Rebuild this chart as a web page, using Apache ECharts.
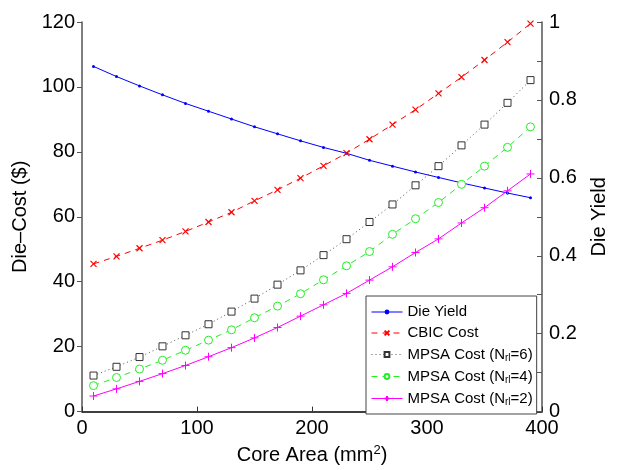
<!DOCTYPE html>
<html>
<head>
<meta charset="utf-8">
<script src="https://cdn.jsdelivr.net/npm/echarts@6/dist/echarts.min.js"></script>
<style>
html,body{margin:0;padding:0;background:#fff;}
#chart{width:618px;height:470px;}
</style>
</head>
<body>
<div id="chart"></div>
<script>
// Core area (mm^2)
var coreArea = [10,30,50,70,90,110,130,150,170,190,210,230,250,270,290,310,330,350,370,390];
// Die yield (right axis)
var dieYield = [0.886,0.860,0.836,0.813,0.791,0.771,0.751,0.731,0.713,0.695,0.678,0.663,0.645,0.630,0.615,0.601,0.587,0.574,0.561,0.549];
// Costs ($) (left axis)
var cbicCost = [45.5,47.8,50.3,52.8,55.5,58.4,61.4,64.9,68.3,71.9,75.7,79.6,83.9,88.4,93.0,98.0,103.0,108.3,113.8,119.5];
var mpsa6 = [11.1,13.8,16.8,20.1,23.5,26.9,30.8,34.8,39.1,43.5,48.2,53.1,58.4,63.8,69.7,75.6,82.0,88.4,95.1,102.1];
var mpsa4 = [8.0,10.5,13.1,15.8,18.9,22.0,25.2,28.9,32.5,36.3,40.6,44.9,49.3,54.6,59.4,64.4,70.0,75.6,81.4,87.7];
var mpsa2 = [4.8,7.0,9.3,11.7,14.2,16.9,19.7,22.7,25.9,29.4,32.9,36.4,40.5,44.6,49.0,53.2,58.1,62.8,68.0,73.2];
var seriesNames = ['Die Yield','CBIC Cost','MPSA Cost (N{sub|rl}=6)','MPSA Cost (N{sub|rl}=4)','MPSA Cost (N{sub|rl}=2)'];

function pairs(ys){ return coreArea.map(function(x,i){ return [x, ys[i]]; }); }

var FONT = 'Liberation Sans, Arial, sans-serif';
var axisCol = '#333';
var xPath = 'path://M0,0L10,10M0,10L10,0';
var plusPath = 'path://M5,0L5,10M0,5L10,5';

var chart = echarts.init(document.getElementById('chart'), null, {renderer:'canvas'});
chart.setOption({
  animation: false,
  backgroundColor: '#fff',
  grid: {left: 82, right: 76, top: 22, bottom: 52.5, containLabel: false},
  xAxis: {
    type: 'value', min: 0, max: 400, interval: 100,
    name: 'Core Area (mm{sup|2})', nameLocation: 'middle', nameGap: 31,
    nameTextStyle: {fontFamily: FONT, fontSize: 20, color: '#000',
      rich: {sup: {fontFamily: FONT, fontSize: 13, color:'#000', padding: [0,0,10,0]}}},
    axisLine: {lineStyle: {color: '#000', width: 1.5}},
    axisTick: {inside: true, length: 5, lineStyle: {color: axisCol}},
    axisLabel: {fontFamily: FONT, fontSize: 20, color: '#000', margin: 7},
    splitLine: {show: false}
  },
  yAxis: [{
    type: 'value', min: 0, max: 120, interval: 20, position: 'left',
    name: 'Die\u2013Cost ($)', nameLocation: 'middle', nameGap: 47, nameRotate: 90,
    nameTextStyle: {fontFamily: FONT, fontSize: 20, color: '#000'},
    axisLine: {show: true, lineStyle: {color: '#555', width: 1.5}},
    axisTick: {show: true, inside: false, length: 5, lineStyle: {color: '#555'}},
    axisLabel: {fontFamily: FONT, fontSize: 20, color: '#000', margin: 7},
    splitLine: {show: false}
  }, {
    type: 'value', min: 0, max: 1, interval: 0.1, position: 'right',
    name: 'Die Yield', nameLocation: 'middle', nameGap: 47, nameRotate: 90,
    nameTextStyle: {fontFamily: FONT, fontSize: 20, color: '#000'},
    axisLine: {show: true, lineStyle: {color: '#555', width: 1.5}},
    axisTick: {show: true, inside: true, length: 5, lineStyle: {color: '#555'}},
    axisLabel: {fontFamily: FONT, fontSize: 20, color: '#000', margin: 7,
      formatter: function(v){ var k = Math.round(v*10); return (k % 2 === 0) ? String(Math.round(v*10)/10) : ''; }},
    splitLine: {show: false}
  }],
  legend: {
    orient: 'vertical', left: 366, top: 296,
    backgroundColor: '#fff', borderColor: '#444', borderWidth: 1,
    padding: [8, 4, 7, 5], itemGap: 5, itemWidth: 31, itemHeight: 6,
    lineStyle: {width: 1},
    data: seriesNames,
    textStyle: {fontFamily: FONT, fontSize: 15, color: '#000', lineHeight: 16,
      rich: {sub: {fontFamily: FONT, fontSize: 10, color: '#000', lineHeight: 10, padding: [7,0,0,0]}}}
  },
  series: [{
    name: seriesNames[0], type: 'line', yAxisIndex: 1, data: pairs(dieYield),
    symbol: 'circle', symbolSize: 3, color: '#0000ff',
    lineStyle: {color: '#0000ff', width: 1},
    itemStyle: {color: '#0000ff'}
  }, {
    name: seriesNames[1], type: 'line', yAxisIndex: 0, data: pairs(cbicCost),
    symbol: xPath, symbolSize: 6, color: '#ff0000',
    lineStyle: {color: '#ff0000', width: 1, type: [6,5]},
    itemStyle: {color: '#ff0000', borderColor: '#ff0000', borderWidth: 1.2}
  }, {
    name: seriesNames[2], type: 'line', yAxisIndex: 0, data: pairs(mpsa6),
    symbol: 'rect', symbolSize: 7, color: '#333',
    lineStyle: {color: '#555', width: 1, type: [1,3]},
    itemStyle: {color: '#fff', borderColor: '#333', borderWidth: 1}
  }, {
    name: seriesNames[3], type: 'line', yAxisIndex: 0, data: pairs(mpsa4),
    symbol: 'circle', symbolSize: 8, color: '#22ee22',
    lineStyle: {color: '#22ee22', width: 1, type: [6,5]},
    itemStyle: {color: '#fff', borderColor: '#22ee22', borderWidth: 1}
  }, {
    name: seriesNames[4], type: 'line', yAxisIndex: 0, data: pairs(mpsa2),
    symbol: plusPath, symbolSize: 8, color: '#ff00ff',
    lineStyle: {color: '#ff00ff', width: 1},
    itemStyle: {color: '#ff00ff', borderColor: '#ff00ff', borderWidth: 1}
  }]
});
</script>
</body>
</html>
